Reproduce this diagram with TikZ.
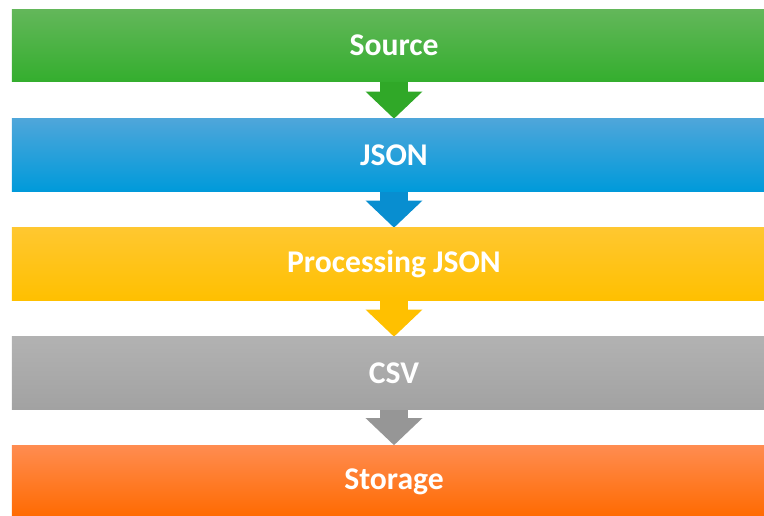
\documentclass[tikz,border=0pt]{standalone}
\usepackage{fontspec}
\setmainfont{Carlito}
\usetikzlibrary{arrows.meta,backgrounds}

\definecolor{srctop}{RGB}{99,183,90}
\definecolor{srcbot}{RGB}{52,174,46}
\definecolor{srcarrow}{RGB}{48,168,40}
\definecolor{jsontop}{RGB}{78,166,218}
\definecolor{jsonbot}{RGB}{0,154,218}
\definecolor{jsonarrow}{RGB}{8,142,208}
\definecolor{proctop}{RGB}{255,199,48}
\definecolor{procbot}{RGB}{255,192,0}
\definecolor{procarrow}{RGB}{255,192,0}
\definecolor{csvtop}{RGB}{178,178,178}
\definecolor{csvbot}{RGB}{162,162,162}
\definecolor{csvarrow}{RGB}{150,150,150}
\definecolor{storetop}{RGB}{255,140,80}
\definecolor{storebot}{RGB}{255,106,0}

\tikzset{
  bar/.style={rectangle, inner sep=0pt, minimum width=19.1cm, minimum height=1.8cm,
    text=white, font=\fontsize{22.5}{27}\selectfont\bfseries},
  flowarrow/.style={line width=0.7cm, -{Triangle[width=1.375cm, length=0.675cm]}}
}

\begin{document}
\begin{tikzpicture}[x=0.025cm, y=-0.025cm]
  \useasboundingbox (0,0) rectangle (764,515);

  % the five stages
  \node[bar, top color=srctop, bottom color=srcbot] (src) at (394,45.5) {Source};
  \node[bar, top color=jsontop, bottom color=jsonbot] (json) at (394,155) {JSON};
  \node[bar, top color=proctop, bottom color=procbot] (proc) at (394,264) {Processing JSON};
  \node[bar, top color=csvtop, bottom color=csvbot] (csv) at (394,373) {CSV};
  \node[bar, top color=storetop, bottom color=storebot] (store) at (394,481.5) {Storage};

  % arrows between stages
  \begin{scope}[on background layer]
    \draw[flowarrow, srcarrow] (src) -- (json);
    \draw[flowarrow, jsonarrow] (json) -- (proc);
    \draw[flowarrow, procarrow] (proc) -- (csv);
    \draw[flowarrow, csvarrow] (csv) -- (store);
  \end{scope}
\end{tikzpicture}
\end{document}
